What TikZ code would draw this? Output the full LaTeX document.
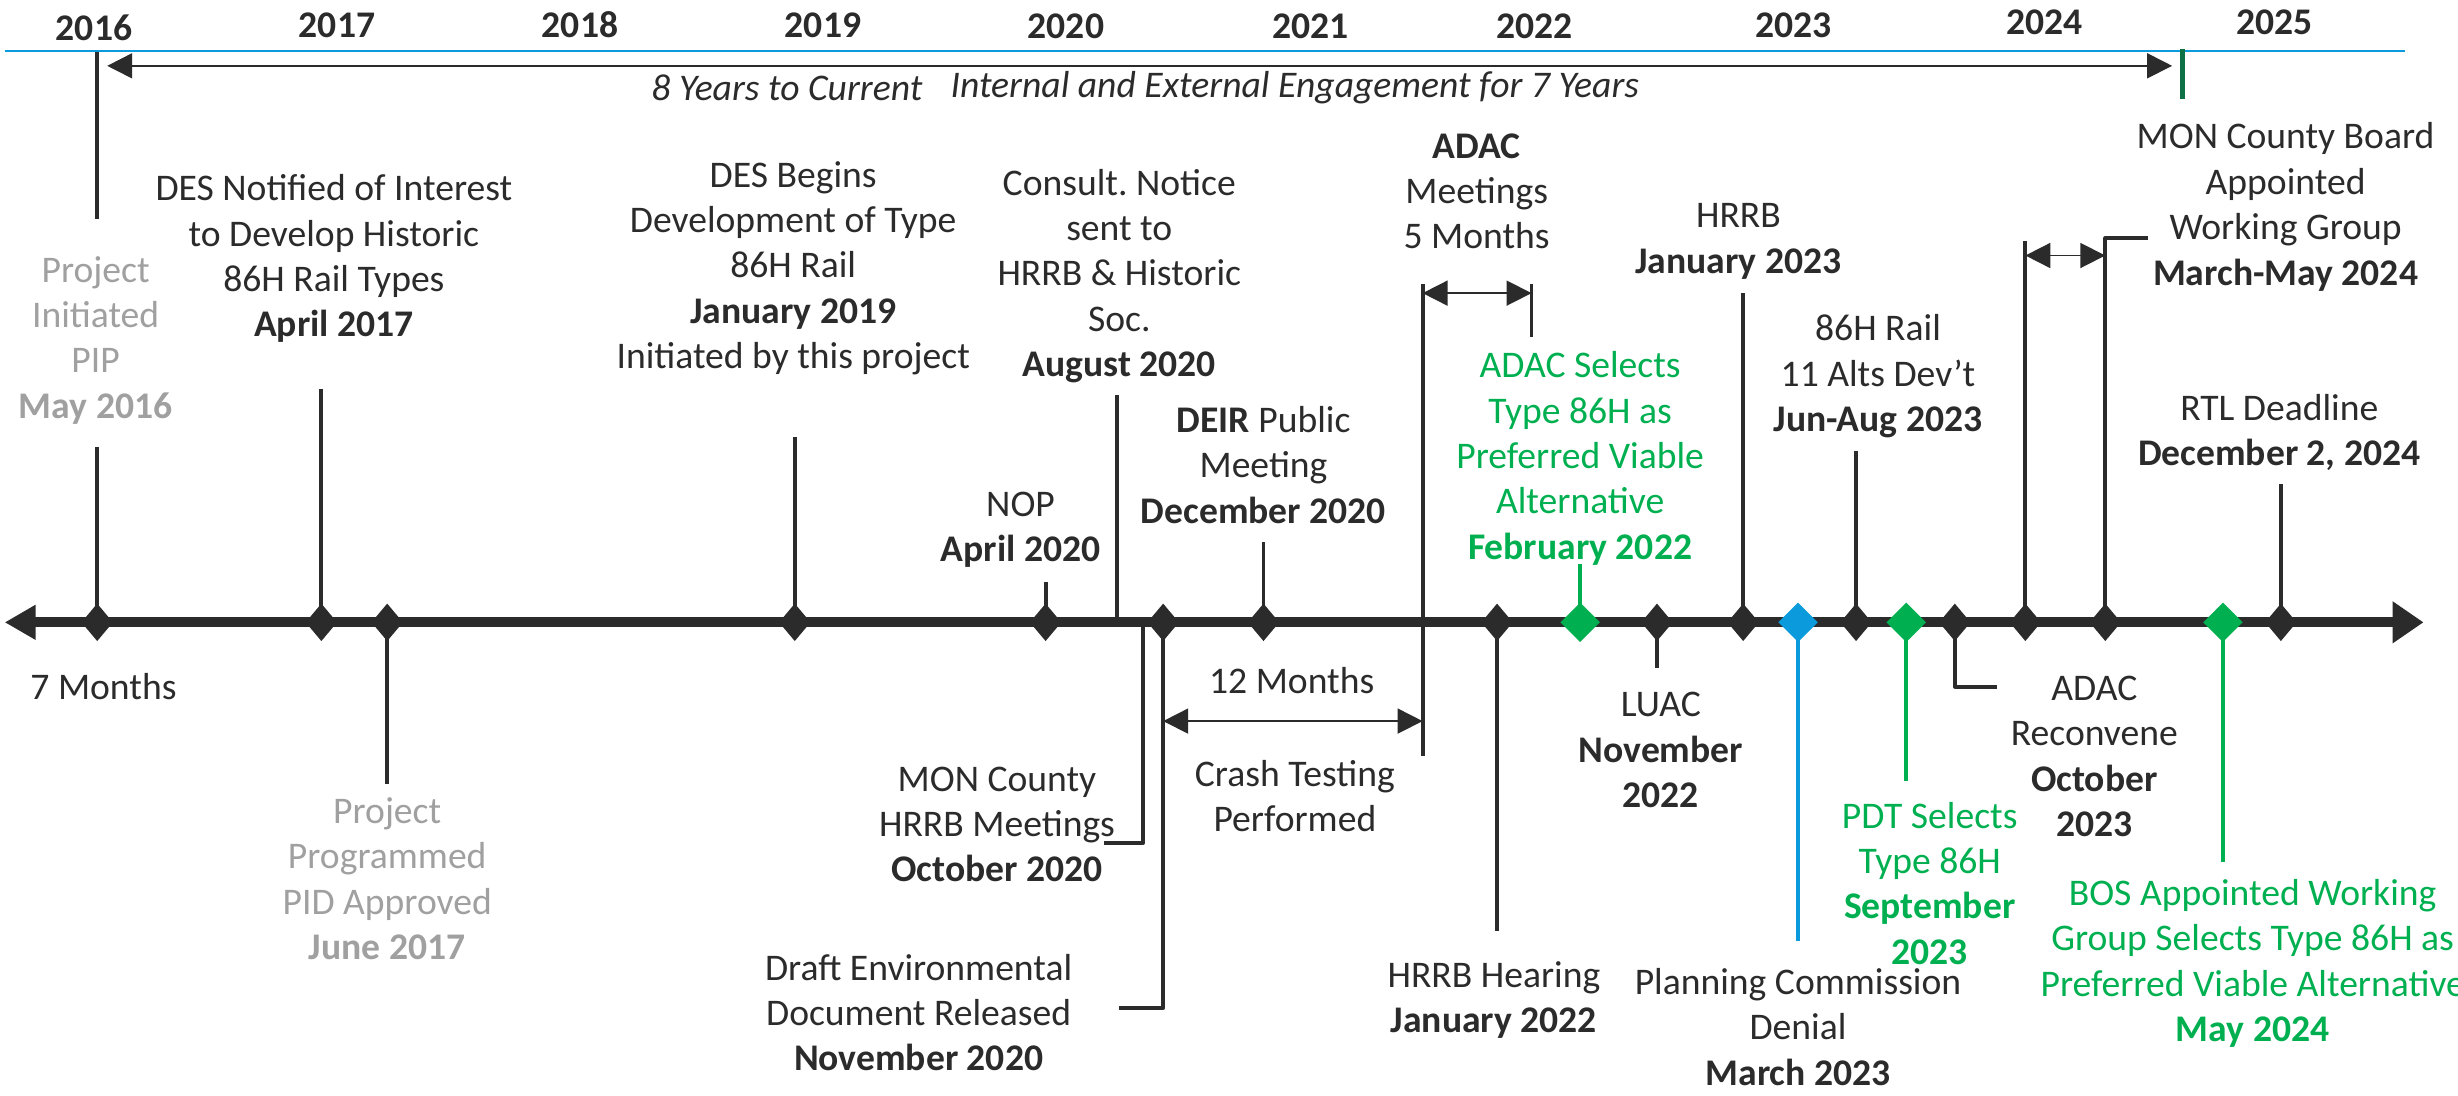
\documentclass[tikz,border=0pt]{standalone}
\usepackage{fontspec}
\setmainfont{Carlito}
\usetikzlibrary{arrows.meta,shapes.geometric}
\definecolor{ink}{HTML}{2B2B2B}
\definecolor{pipgray}{HTML}{A0A0A0}
\definecolor{selgreen}{HTML}{00B050}
\definecolor{denblue}{HTML}{0B9BDC}
\definecolor{tickgreen}{HTML}{0E7045}
\tikzset{
  axis/.style={line width=2.85pt,draw=ink},
  stem/.style={line width=1.1pt,draw=ink},
  dia/.style={diamond,fill=ink,inner sep=0pt,minimum width=0.32cm,minimum height=0.38cm},
  bigdia/.style={dia,minimum width=0.4cm,minimum height=0.4cm},
  lbl/.style={align=center,text=ink,inner sep=0pt},
  span/.style={line width=0.5pt,draw=ink,{Triangle[length=2.5mm,width=2.5mm]}-{Triangle[length=2.5mm,width=2.5mm]}}
}
\frenchspacing
\begin{document}
\begin{tikzpicture}[x=0.015676cm,y=-0.015676cm,line join=round,font=\fontsize{10.7}{12.9}\selectfont]
\useasboundingbox (0,0) rectangle (1568,699);
% years and the top rule
\foreach \yr/\x/\y in {2016/60/18,2017/215/16,2018/370/16,2019/525/16,2020/680/17,2021/836/17,2022/979/17,2023/1144/16,2024/1304/14,2025/1451/14}
  \node[lbl] (y\yr) at (\x,\y) {\textbf{\yr}};
\coordinate (blueL) at (3,32.5);
\coordinate (blueR) at (1534,32.5);
\draw[line width=0.75pt,draw=denblue] (blueL) -- (blueR);
\coordinate (topA) at (62,33);
\coordinate (topB) at (62,140);
\coordinate (tickA) at (1392,31);
\coordinate (tickB) at (1392,63);
\draw[stem] (topA) -- (topB);
\draw[line width=1.4pt,draw=tickgreen] (tickA) -- (tickB);
\draw[span,shorten <=1mm,shorten >=1mm] (topA |- 0,42) -- (tickA |- 0,42);
\node[lbl] (t8y) at (502,56) {\itshape 8 Years to Current};
\node[lbl] (tengage) at (826,56) {\itshape Internal and External Engagement for 7 Years};
% points on the time axis
\foreach \n/\x in {may16/62,apr17/205,jun17/247,jan19/507,apr20/667,aug20/712.5,oct20/729,nov20/742,dec20/806,jan22/955,feb22/1008,nov22/1057,jan23/1112,mar23/1147,jun23/1184,sep23/1216,oct23/1247,mar24/1292,may24a/1343,may24/1418,dec24/1455}
  \coordinate (p\n) at (\x,397);
\coordinate (axL) at (3,397);
\coordinate (axR) at (1546,397);
\draw[axis,{Triangle[length=3.1mm,width=3.3mm]}-{Triangle[length=3.1mm,width=4mm]}] (axL) -- (axR);
% stems
\foreach \n/\y in {may16/285,apr17/248,jan19/279,apr20/371,aug20/252,dec20/346,jan23/187,jun23/288,mar24/154,dec24/309,jun17/500,jan22/594,nov22/426}{
  \coordinate (e\n) at (p\n |- 0,\y);
  \draw[stem] (p\n) -- (e\n);
}
\foreach \n/\y/\c in {feb22/360/selgreen,sep23/498/selgreen,may24/550/selgreen,mar23/600/denblue}{
  \coordinate (e\n) at (p\n |- 0,\y);
  \draw[stem,draw=\c] (p\n) -- (e\n);
}
\foreach \n/\x/\y in {oct20/704/538,nov20/714/643,oct23/1274/438,may24a/1370/152}{
  \coordinate (e\n) at (\x,\y);
  \draw[stem] (p\n) |- (e\n);
}
% ADAC meetings bracket and spans
\coordinate (adacA) at (907.5,181);
\coordinate (adacB) at (907.5,482);
\coordinate (adacC) at (977,181);
\coordinate (adacD) at (977,215);
\draw[stem] (adacA) -- (adacB);
\draw[stem] (adacC) -- (adacD);
\draw[span] (adacA |- 0,187) -- (adacC |- 0,187);
\draw[span] (pnov20 |- 0,460) -- (adacA |- 0,460);
\draw[span] (pmar24 |- 0,163) -- (pmay24a |- 0,163);
% diamonds
\foreach \n in {may16,apr17,jun17,jan19,apr20,nov20,dec20,jan22,nov22,jan23,jun23,oct23,mar24,may24a,dec24}
  \node[dia] (d\n) at (p\n) {};
\foreach \n in {feb22,sep23,may24}
  \node[bigdia,fill=selgreen] (d\n) at (p\n) {};
\node[bigdia,fill=denblue] (dmar23) at (pmar23) {};
% labels
\node[lbl,text=pipgray] (tmay16) at (61,217) {Project\\Initiated\\PIP\\\textbf{May 2016}};
\node[lbl] (tapr17) at (213,165) {DES Notified of Interest\\to Develop Historic\\86H Rail Types\\\textbf{April 2017}};
\node[lbl,text=pipgray] (tjun17) at (247,560.5) {Project\\Programmed\\PID Approved\\\textbf{June 2017}};
\node[lbl] (tjan19) at (506,171) {DES Begins\\Development of Type\\86H Rail\\\textbf{January 2019}\\Initiated by this project};
\node[lbl] (tapr20) at (651,338) {NOP\\\textbf{April 2020}};
\node[lbl] (taug20) at (714,176) {Consult. Notice\\sent to\\HRRB \& Historic\\Soc.\\\textbf{August 2020}};
\node[lbl] (toct20) at (636,526) {MON County\\HRRB Meetings\\\textbf{October 2020}};
\node[lbl] (tnov20) at (586,646) {Draft Environmental\\Document Released\\\textbf{November 2020}};
\node[lbl] (tdec20) at (806,296.5) {\textbf{DEIR} Public\\Meeting\\\textbf{December 2020}};
\node[lbl] (t12m) at (824,434) {12 Months};
\node[lbl] (tcrash) at (826,508) {Crash Testing\\Performed};
\node[lbl] (tadac) at (942,122) {\textbf{ADAC}\\Meetings\\5 Months};
\node[lbl] (tjan22) at (953,638) {HRRB Hearing\\\textbf{January 2022}};
\node[lbl,text=selgreen] (tfeb22) at (1008,292.5) {ADAC Selects\\Type 86H as\\Preferred Viable\\Alternative\\\textbf{February 2022}};
\node[lbl] (tnov22) at (1059.5,478.5) {LUAC\\\textbf{November}\\\textbf{2022}};
\node[lbl] (tjan23) at (1109,154) {HRRB\\\textbf{January 2023}};
\node[lbl] (tmar23) at (1147,655) {Planning Commission\\Denial\\\textbf{March 2023}};
\node[lbl] (tjun23) at (1198,240) {86H Rail\\11 Alts Dev’t\\\textbf{Jun-Aug 2023}};
\node[lbl,text=selgreen] (tsep23) at (1231,563.5) {PDT Selects\\Type 86H\\\textbf{September}\\\textbf{2023}};
\node[lbl] (toct23) at (1336,482.5) {ADAC\\Reconvene\\\textbf{October}\\\textbf{2023}};
\node[lbl] (tmar24) at (1458,132) {MON County Board\\Appointed\\Working Group\\\textbf{March-May 2024}};
\node[lbl,text=selgreen] (tmay24) at (1437,614.5) {BOS Appointed Working\\Group Selects Type 86H as\\Preferred Viable Alternative\\\textbf{May 2024}};
\node[lbl] (tdec24) at (1454,276) {RTL Deadline\\\textbf{December 2, 2024}};
\node[lbl] (t7m) at (66,438) {7 Months};
\end{tikzpicture}
\end{document}
